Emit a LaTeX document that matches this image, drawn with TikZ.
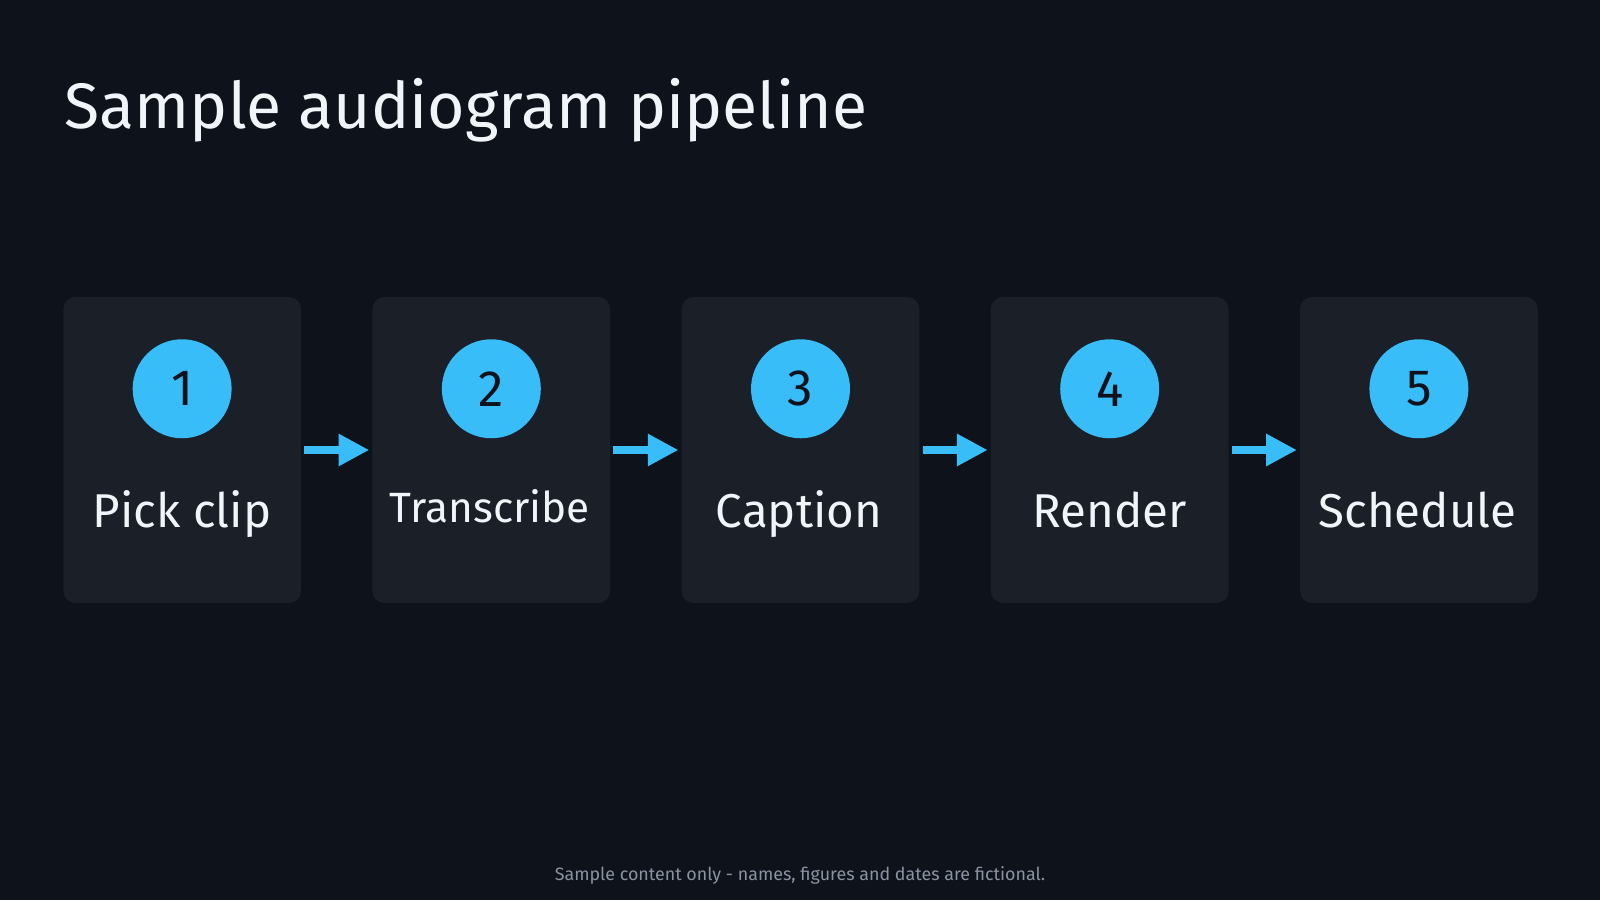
\documentclass[tikz,border=0pt]{standalone}
\usepackage{fontspec}
\setmainfont{Fira Sans}
\usetikzlibrary{arrows.meta}
\definecolor{bg}{HTML}{0E121B}
\definecolor{card}{HTML}{1B1F28}
\definecolor{acc}{HTML}{38BDF8}
\definecolor{fg}{HTML}{F1F5F9}
\definecolor{muted}{HTML}{8B93A1}
\begin{document}
\begin{tikzpicture}[x=1pt,y=-1pt,
  card/.style={fill=card,rounded corners=12pt,minimum width=233pt,minimum height=300pt,inner sep=0pt},
  num/.style={circle,fill=acc,minimum size=97pt,inner sep=0pt,text=bg,font=\fontsize{50}{54}\selectfont},
  lab/.style={text=fg,font=\fontsize{46.5}{50}\selectfont,anchor=base},
  arr/.style={draw=acc,line width=7pt,-{Triangle[length=30pt,width=30pt]}},
]
\fill[bg] (0,0) rectangle (1568,882);
\useasboundingbox (0,0) rectangle (1568,882);
\node[anchor=base west,text=fg,font=\fontsize{63}{68}\selectfont] (title) at (60,126) {Sample audiogram pipeline};
\foreach \i [count=\k] in {1,2,3,4,5}{
  \node[card] (c\k) at ({178.5+303*(\k-1)},441) {};
  \node[num] (n\k) at ({178.5+303*(\k-1)},381) {\i};
}
\node[lab] (l1) at (178.5,517) {Pick clip};
\node[lab,font=\fontsize{41.5}{45}\selectfont] (l2) at (480,512) {Transcribe};
\node[lab] (l3) at (783,517) {Caption};
\node[lab] (l4) at (1087.5,517) {Render};
\node[lab] (l5) at (1389,517) {Schedule};
\foreach \a/\b in {1/2,2/3,3/4,4/5}{
  \draw[arr] ([xshift=3pt]c\a.east) -- ([xshift=-3pt]c\b.west);
}
\node[text=muted,font=\fontsize{17.5}{20}\selectfont] (foot) at (784,858) {Sample content only - names, figures and dates are fictional.};
\end{tikzpicture}
\end{document}
